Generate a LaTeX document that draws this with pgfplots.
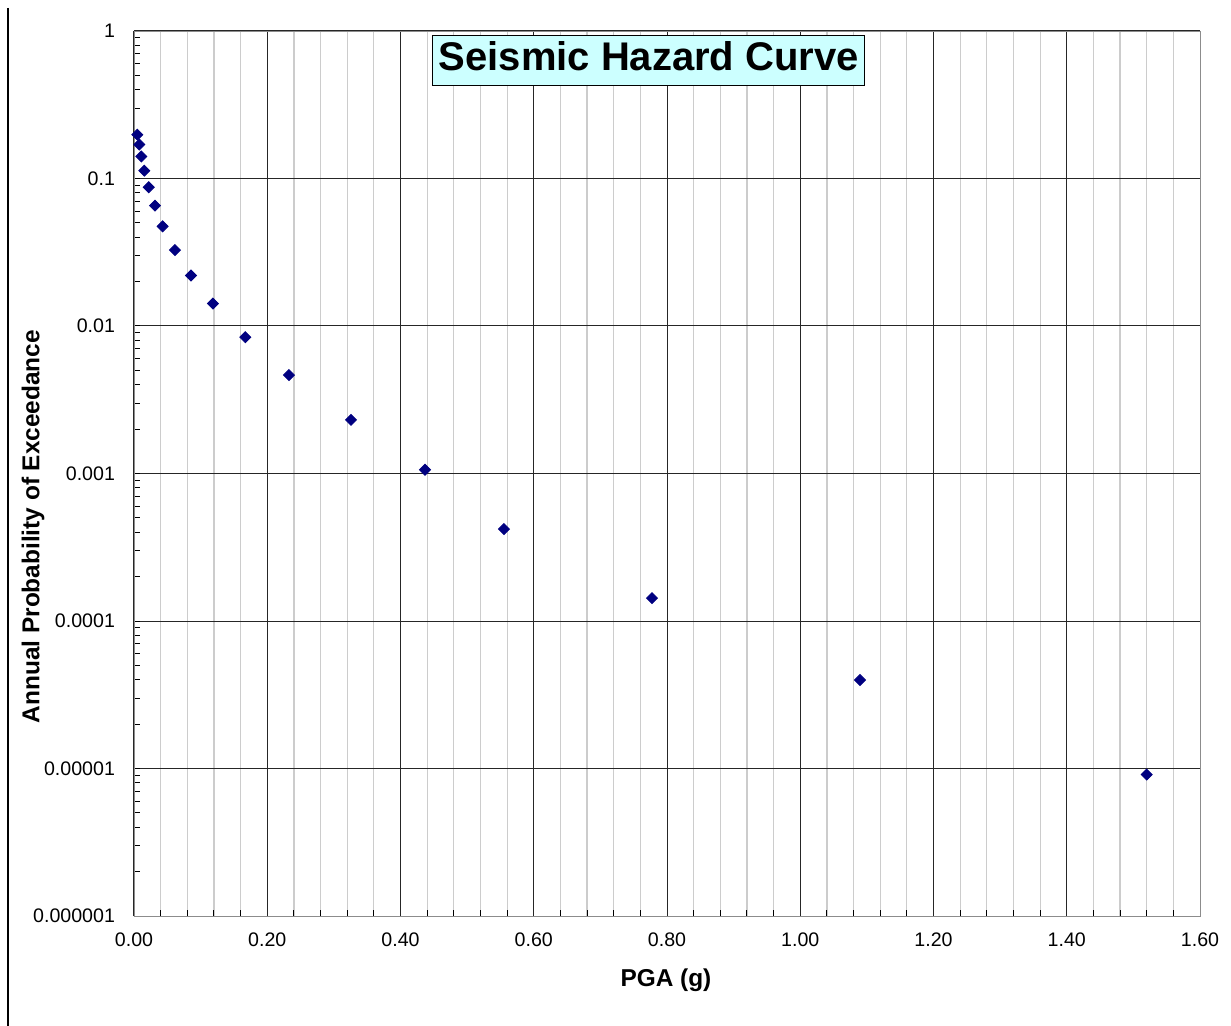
\documentclass[border=0pt]{standalone}
\usepackage{pgfplots}
\pgfplotsset{compat=1.18}
\usepackage{fontspec}
\setmainfont{Liberation Sans}
\definecolor{ptnavy}{HTML}{000080}
\definecolor{titlebg}{HTML}{CCFFFF}
\definecolor{minorgrid}{HTML}{CCCCCC}
\begin{document}
\begin{tikzpicture}
  % picture frame in px*0.5pt, origin at lower left of plot box
  \path[use as bounding box] (-67pt,-55pt) rectangle (548.5pt,458pt);
  \draw[black, line width=0.6pt] (-63pt,454pt) -- (-63pt,-55pt);
  \begin{axis}[
    at={(0,0)}, anchor=south west,
    scale only axis,
    width=533pt, height=442.5pt,
    % x axis
    xmin=0, xmax=1.6,
    xtick={0,0.2,...,1.6},
    xticklabels={0.00,0.20,0.40,0.60,0.80,1.00,1.20,1.40,1.60},
    minor x tick num=4,
    % y axis
    ymode=log,
    ymin=1e-6, ymax=1,
    ytick={1e-6,1e-5,1e-4,1e-3,1e-2,1e-1,1},
    yticklabels={0.000001,0.00001,0.0001,0.001,0.01,0.1,1},
    % look
    axis line style={draw=gray!90},
    tick pos=left,
    tick align=inside,
    major tick length=0pt,
    minor tick length=3pt,
    minor tick style={black, line width=0.5pt},
    xmajorgrids, xminorgrids, ymajorgrids,
    major grid style={black!85, line width=0.5pt},
    minor grid style={minorgrid, line width=0.6pt},
    every tick label/.append style={font=\fontsize{9.8}{11}\selectfont},
    xticklabel style={yshift=-5pt},
    yticklabel style={xshift=-6pt},
    xlabel={\textbf{PGA (g)}},
    ylabel={\textbf{Annual Probability of Exceedance}},
    label style={font=\fontsize{12.2}{14}\selectfont},
    xlabel style={at={(axis description cs:0.499,0)}, anchor=center, yshift=-32pt},
    ylabel style={at={(axis description cs:0,0.44)}, anchor=center, yshift=50.5pt},
    clip=false,
  ]
    \addplot[only marks, mark=square*, mark size=1.95pt,
             mark options={draw=ptnavy, fill=ptnavy, rotate=45}] coordinates {
      (0.005, 0.198)
      (0.008, 0.170)
      (0.011, 0.141)
      (0.0155, 0.113)
      (0.0221, 0.0873)
      (0.0315, 0.0655)
      (0.043, 0.0474)
      (0.0615, 0.0327)
      (0.0855, 0.0220)
      (0.1185, 0.0142)
      (0.1670, 0.0084)
      (0.2326, 0.00465)
      (0.3257, 0.00231)
      (0.4368, 0.00106)
      (0.5553, 0.00042)
      (0.7775, 0.000143)
      (1.0897, 0.0000398)
      (1.52, 0.0000091)
    };
    \node[draw=black, fill=titlebg, line width=0.5pt,
          font=\fontsize{20}{24}\selectfont\bfseries,
          inner xsep=3pt, text height=14.5pt, text depth=4pt]
      at (rel axis cs:0.483,0.967) {Seismic Hazard Curve};
  \end{axis}
\end{tikzpicture}
\end{document}
